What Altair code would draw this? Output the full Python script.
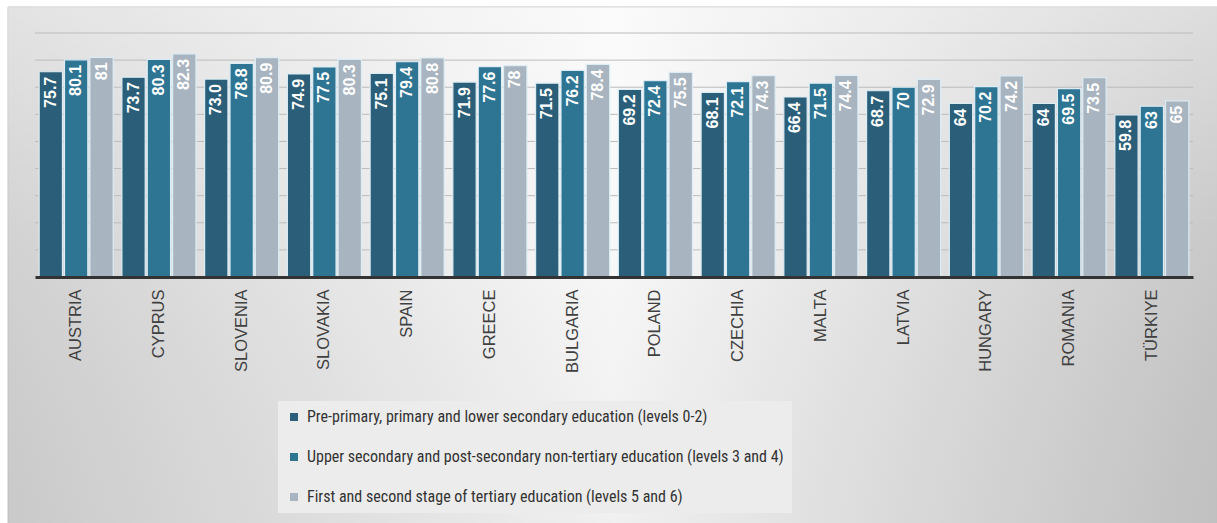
import altair as alt
import pandas as pd

countries = ["AUSTRIA", "CYPRUS", "SLOVENIA", "SLOVAKIA", "SPAIN", "GREECE", "BULGARIA",
             "POLAND", "CZECHIA", "MALTA", "LATVIA", "HUNGARY", "ROMANIA", "TÜRKIYE"]
series = [
    "Pre-primary, primary and lower secondary education (levels 0-2)",
    "Upper secondary and post-secondary non-tertiary education (levels 3 and 4)",
    "First and second stage of tertiary education (levels 5 and 6)",
]
levels_0_2 = [75.7, 73.7, 73.0, 74.9, 75.1, 71.9, 71.5, 69.2, 68.1, 66.4, 68.7, 64, 64, 59.8]
levels_3_4 = [80.1, 80.3, 78.8, 77.5, 79.4, 77.6, 76.2, 72.4, 72.1, 71.5, 70, 70.2, 69.5, 63]
levels_5_6 = [81, 82.3, 80.9, 80.3, 80.8, 78, 78.4, 75.5, 74.3, 74.4, 72.9, 74.2, 73.5, 65]
labels_0_2 = ["75.7", "73.7", "73.0", "74.9", "75.1", "71.9", "71.5", "69.2", "68.1", "66.4", "68.7", "64", "64", "59.8"]
labels_3_4 = ["80.1", "80.3", "78.8", "77.5", "79.4", "77.6", "76.2", "72.4", "72.1", "71.5", "70", "70.2", "69.5", "63"]
labels_5_6 = ["81", "82.3", "80.9", "80.3", "80.8", "78", "78.4", "75.5", "74.3", "74.4", "72.9", "74.2", "73.5", "65"]
grid_values = [10, 20, 30, 40, 50, 60, 70, 80, 90]
colors = ["#2b5f79", "#2e7594", "#a8b4bf"]

rows = []
for vals, labs, s in [(levels_0_2, labels_0_2, series[0]),
                      (levels_3_4, labels_3_4, series[1]),
                      (levels_5_6, labels_5_6, series[2])]:
    for c, v, l in zip(countries, vals, labs):
        rows.append({"country": c, "series": s, "value": v, "label": l})
df = pd.DataFrame(rows)

W, H = 1158, 244

bg_h = alt.Chart(alt.Data(values=[{}])).mark_rect(
    fill=alt.LinearGradient(
        gradient="linear", x1=0, y1=0, x2=1, y2=0,
        stops=[alt.GradientStop(offset=0, color="#d0d0d0"),
               alt.GradientStop(offset=0.5, color="#f8f8f8"),
               alt.GradientStop(offset=1, color="#c6c6c6")]),
    stroke="#c4c4c4", strokeWidth=1,
).encode(x=alt.value(-27), x2=alt.value(1217 - 35 + 2), y=alt.value(-26), y2=alt.value(523 - 33 + 2))

bg_v = alt.Chart(alt.Data(values=[{}])).mark_rect(
    fill=alt.LinearGradient(
        gradient="linear", x1=0, y1=0, x2=0, y2=1,
        stops=[alt.GradientStop(offset=0, color="rgba(255,255,255,0.4)"),
               alt.GradientStop(offset=0.45, color="rgba(255,255,255,0.05)"),
               alt.GradientStop(offset=1, color="rgba(0,0,0,0.03)")]),
).encode(x=alt.value(-27), x2=alt.value(1217 - 35 + 2), y=alt.value(-26), y2=alt.value(523 - 33 + 2))

yscale = alt.Scale(domain=[0, 90], nice=False)

grid = alt.Chart(pd.DataFrame({"value": grid_values})).mark_rule(
    color="#bcbcbc", strokeWidth=1
).encode(y=alt.Y("value:Q", scale=yscale, axis=None), x=alt.value(0), x2=alt.value(W))

base = alt.Chart(df).encode(
    x=alt.X("country:N", sort=countries,
            scale=alt.Scale(paddingInner=0.105, paddingOuter=0.05),
            axis=alt.Axis(title=None, labelAngle=-90, labelFont="Liberation Sans",
                          labelFontSize=16.5, labelColor="#404040", labelPadding=12,
                          ticks=False, domainColor="#333333", domainWidth=3,
                          grid=False, zindex=1)),
    xOffset=alt.XOffset("series:N", sort=series, scale=alt.Scale(paddingInner=0.08)),
    y=alt.Y("value:Q", scale=yscale, axis=None),
)

bars = base.mark_bar(stroke="#dcecf4", strokeWidth=1.2).encode(
    color=alt.Color("series:N", sort=series,
                    scale=alt.Scale(domain=series, range=colors),
                    legend=alt.Legend(title=None, orient="none", legendX=243, legendY=368,
                                      direction="vertical", symbolType="square",
                                      symbolSize=64, symbolStrokeWidth=0,
                                      labelFont="Liberation Sans Narrow, Roboto Condensed, Roboto",
                                      labelFontSize=16, labelColor="#333333", labelLimit=600,
                                      labelOffset=5, rowPadding=24, padding=8,
                                      fillColor="#ececec"))
)

texts = base.mark_text(angle=270, align="right", baseline="middle", dx=-5,
                       font="Liberation Sans", fontWeight="bold", fontSize=16,
                       color="white").encode(text="label:N")

chart = alt.layer(bg_h, bg_v, grid, bars, texts).properties(
    width=W, height=H,
    autosize=alt.AutoSizeParams(type="none"),
    padding={"left": 35, "top": 33, "right": 1217 - 35 - W, "bottom": 523 - 33 - H},
    background="white",
).configure_view(stroke=None)

chart.save("out.html", embed_options={"renderer": "svg", "actions": False})
